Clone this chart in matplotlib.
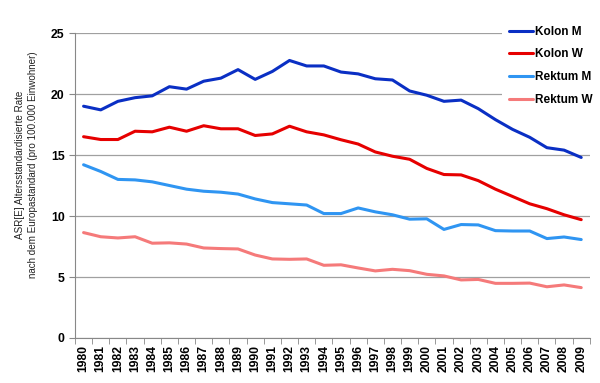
import matplotlib.pyplot as plt
from matplotlib.ticker import FixedLocator

years = list(range(1980, 2010))

kolon_m = [19.0, 18.7, 19.4, 19.7, 19.85, 20.6, 20.4, 21.05, 21.3, 22.0,
           21.2, 21.85, 22.75, 22.3, 22.3, 21.8, 21.65, 21.25, 21.15, 20.25,
           19.9, 19.4, 19.5, 18.8, 17.9, 17.1, 16.45, 15.6, 15.4, 14.8]
kolon_w = [16.5, 16.27, 16.27, 16.95, 16.9, 17.28, 16.95, 17.4, 17.15, 17.15,
           16.6, 16.73, 17.36, 16.9, 16.65, 16.25, 15.9, 15.25, 14.9, 14.65,
           13.9, 13.4, 13.37, 12.9, 12.2, 11.6, 11.0, 10.6, 10.1, 9.7]
rektum_m = [14.2, 13.65, 13.0, 12.96, 12.8, 12.5, 12.2, 12.03, 11.95, 11.8,
            11.4, 11.1, 11.0, 10.9, 10.2, 10.2, 10.66, 10.34, 10.1, 9.74,
            9.77, 8.9, 9.3, 9.27, 8.8, 8.77, 8.77, 8.15, 8.28, 8.07]
rektum_w = [8.64, 8.3, 8.2, 8.3, 7.77, 7.8, 7.7, 7.38, 7.33, 7.3,
            6.8, 6.48, 6.45, 6.48, 5.96, 6.0, 5.74, 5.5, 5.63, 5.52,
            5.22, 5.09, 4.76, 4.8, 4.48, 4.48, 4.5, 4.2, 4.35, 4.13]

series = [
    ('Kolon M', kolon_m, '#0a2fc4'),
    ('Kolon W', kolon_w, '#e60000'),
    ('Rektum M', rektum_m, '#2f95f2'),
    ('Rektum W', rektum_w, '#f57a7a'),
]

plt.rcParams['font.family'] = ['Liberation Sans', 'DejaVu Sans']

fig = plt.figure(figsize=(6, 3.83), dpi=100)
ax = fig.add_axes([0.125, 0.1175, 0.858, 0.7963])

for name, vals, col in series:
    ax.plot(years, vals, color=col, lw=2.2, label=name, solid_capstyle='round')

ax.set_xlim(1979.5, 2009.5)
ax.set_ylim(0, 25)
ax.set_yticks([0, 5, 10, 15, 20, 25])
ax.set_xticks(years)
ax.set_xticklabels([str(y) for y in years], rotation=90, fontsize=8.7, fontweight='bold')
ax.xaxis.set_minor_locator(FixedLocator([y - 0.5 for y in years] + [2009.5]))
ax.tick_params(axis='x', which='major', length=0, pad=5)
ax.tick_params(axis='x', which='minor', length=4, color='#888888')
ax.tick_params(axis='y', length=4, color='#888888', labelsize=8.8)
for lab in ax.get_yticklabels():
    lab.set_fontweight('bold')

ax.grid(axis='y', color='#a0a0a0', lw=0.9)
ax.set_axisbelow(True)
for s in ['top', 'right']:
    ax.spines[s].set_visible(False)
for s in ['left', 'bottom']:
    ax.spines[s].set_color('#888888')

ax.set_ylabel('ASR[E] Altersstandardisierte Rate\nnach dem Europastandard (pro 100.000 Einwohner)',
              fontsize=7.1, color='#222222', linespacing=1.35)
ax.yaxis.set_label_coords(-0.072, 0.567)

leg = fig.legend(loc='upper left', bbox_to_anchor=(0.837, 0.951), frameon=True,
                 handlelength=2.0, handletextpad=0.2, borderaxespad=0,
                 labelspacing=0.9, borderpad=0.6, prop={'weight': 'bold', 'size': 8.5})
leg.get_frame().set_facecolor('white')
leg.get_frame().set_edgecolor('none')
leg.get_frame().set_alpha(1)

fig.savefig('out.png', dpi=100)
